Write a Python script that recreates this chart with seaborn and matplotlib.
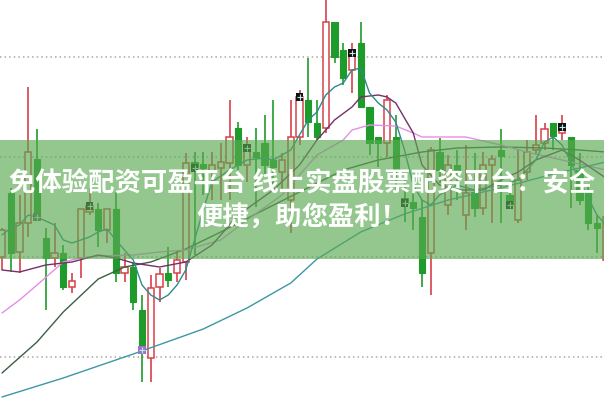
import numpy as np
import pandas as pd
import matplotlib
matplotlib.use('Agg')
import matplotlib.pyplot as plt
import seaborn as sns

# ---------- data (price units) ----------
opens = [11.50, 12.14, 11.55, 11.84, 12.48, 11.69, 11.49, 11.54, 11.20, 11.49,
         11.95, 11.98, 11.77, 11.98, 11.34, 11.40, 10.97, 10.49, 11.20, 11.34,
         11.34, 11.45, 12.45, 12.42, 12.35, 12.39, 12.44, 12.79, 12.42, 12.55,
         12.64, 12.47, 12.35, 12.07, 12.70, 13.07, 12.84, 12.79, 13.85, 13.57,
         13.37, 13.64, 13.00, 12.70, 12.64, 12.70, 12.09, 12.05, 11.90, 11.54,
         12.55, 12.02, 12.42, 11.92, 12.15, 11.99, 12.42, 12.57, 12.12, 11.87,
         12.35, 12.57, 12.64, 12.84, 12.74, 12.70, 12.37, 12.14, 11.84, 11.47]
closes = [11.77, 11.54, 11.84, 12.55, 11.90, 11.49, 11.54, 11.20, 11.26, 11.98,
          12.01, 11.77, 11.98, 11.34, 11.40, 11.05, 10.57, 11.19, 11.33, 11.27,
          11.47, 12.44, 12.39, 12.39, 12.42, 12.45, 12.70, 12.42, 12.59, 12.50,
          12.42, 12.40, 12.47, 12.70, 13.10, 12.85, 12.70, 13.85, 13.50, 13.29,
          13.54, 13.00, 12.64, 12.64, 13.07, 12.37, 12.04, 11.99, 11.34, 12.57,
          12.37, 12.42, 12.35, 12.14, 11.99, 12.42, 12.48, 12.51, 12.02, 12.27,
          12.55, 12.62, 12.78, 12.71, 12.80, 12.42, 12.07, 11.84, 11.79, 11.90]
highs = [11.79, 12.19, 12.12, 13.20, 12.78, 11.79, 11.84, 11.62, 11.34, 11.98,
         12.19, 12.04, 11.98, 12.15, 11.54, 11.45, 11.12, 11.32, 11.39, 11.60,
         11.57, 12.54, 12.55, 12.55, 12.55, 12.64, 13.07, 12.85, 12.70, 12.79,
         12.92, 13.07, 12.54, 13.07, 13.17, 13.49, 13.07, 14.12, 13.85, 13.64,
         13.64, 13.85, 13.00, 12.70, 13.12, 12.92, 12.27, 12.22, 12.07, 12.60,
         12.69, 12.52, 12.57, 12.62, 12.54, 12.55, 12.52, 12.78, 12.17, 12.57,
         12.67, 12.92, 12.84, 12.84, 12.92, 12.70, 12.54, 12.22, 11.92, 11.97]
lows = [11.37, 11.35, 11.34, 11.70, 11.87, 10.97, 11.40, 11.17, 11.14, 11.29,
        11.92, 11.60, 11.64, 11.25, 11.25, 10.97, 10.25, 10.25, 11.05, 11.20,
        11.25, 11.27, 11.52, 12.12, 12.07, 12.07, 12.07, 12.37, 12.25, 12.00,
        12.32, 12.20, 12.17, 11.74, 12.62, 12.70, 12.67, 12.74, 13.44, 13.22,
        13.14, 13.00, 12.52, 12.40, 12.50, 12.14, 11.85, 11.77, 11.20, 11.12,
        12.24, 11.92, 12.07, 11.77, 11.90, 11.92, 11.84, 11.84, 11.99, 11.84,
        12.27, 12.52, 12.57, 12.57, 12.67, 11.99, 12.02, 11.77, 11.54, 11.37]

marker_idx = [4, 10, 16, 22, 28, 34, 40, 46, 58, 64]

# moving average lines, sampled at candle indices
ma5_idx = [0, 1, 2, 3, 4, 6, 7, 8, 9, 10, 11, 12, 13, 14, 15, 16, 17, 18, 19, 20,
           21, 22, 23, 24, 26, 28, 30, 31, 33, 34, 35, 36, 37, 38, 39, 40, 41, 42,
           43, 44, 45, 46, 47, 48, 49, 50, 52, 54, 57, 59, 61, 62, 63, 64, 65, 66,
           67, 68, 69]
ma5_val = [11.72, 11.79, 11.82, 11.92, 11.90, 11.82, 11.67, 11.64, 11.67, 11.70,
           11.75, 11.78, 11.67, 11.57, 11.47, 11.22, 11.12, 11.07, 11.12, 11.22,
           11.37, 11.67, 11.97, 12.25, 12.37, 12.47, 12.49, 12.47, 12.57, 12.72,
           12.87, 12.95, 13.12, 13.20, 13.24, 13.37, 13.39, 13.14, 13.04, 12.97,
           12.85, 12.57, 12.22, 12.07, 12.02, 12.12, 12.22, 12.17, 12.22, 12.27,
           12.47, 12.65, 12.70, 12.62, 12.45, 12.27, 12.09, 11.92, 11.82]
ma10_idx = [0, 2, 5, 8, 11, 13, 15, 18, 21, 24, 27, 31, 34, 36, 38, 40, 41, 43,
            44, 45, 47, 48, 50, 52, 55, 57, 59, 61, 64, 66, 69]
ma10_val = [11.37, 11.35, 11.42, 11.45, 11.52, 11.49, 11.44, 11.40, 11.45, 11.62,
            11.92, 12.17, 12.42, 12.67, 12.87, 13.00, 13.10, 13.12, 13.10, 13.04,
            12.74, 12.42, 12.22, 12.17, 12.17, 12.27, 12.35, 12.47, 12.57, 12.47,
            12.29]
ma20_idx = [0, 2, 4, 7, 9, 11, 15, 18, 21, 25, 28, 32, 34, 36, 39, 40, 42, 45,
            47, 48, 53, 57, 60, 64, 69]
ma20_val = [10.94, 11.07, 11.22, 11.45, 11.49, 11.51, 11.52, 11.55, 11.57, 11.67,
            11.87, 12.12, 12.32, 12.52, 12.67, 12.77, 12.82, 12.81, 12.74, 12.70,
            12.70, 12.62, 12.55, 12.47, 12.37]
ma30_idx = [0, 4, 7, 11, 14, 17, 21, 25, 29, 34, 39, 43, 48, 52, 57, 62, 66, 69]
ma30_val = [10.34, 10.65, 10.95, 11.28, 11.40, 11.45, 11.58, 11.75, 11.93, 12.15,
            12.37, 12.47, 12.55, 12.59, 12.60, 12.59, 12.57, 12.55]
ma60_idx = [0, 7, 15, 23, 28, 33, 36, 41, 46, 51, 57, 63, 69]
ma60_val = [10.10, 10.29, 10.53, 10.78, 10.99, 11.24, 11.48, 11.75, 11.93, 12.07,
            12.19, 12.33, 12.45]

banner_lines = ['免体验配资可盈平台 线上实盘股票配资平台：安全', '便捷，助您盈利！']

# ---------- style ----------
sns.set_style('white')
plt.rcParams['font.family'] = ['Noto Sans CJK SC', 'DejaVu Sans']

up_col = '#d8404a'
down_col = '#1f9b2c'

fig = plt.figure(figsize=(6.04, 4.01), dpi=100)
ax = fig.add_axes([0, 0, 1, 1])

df = pd.DataFrame({'open': opens, 'close': closes, 'high': highs, 'low': lows})
df['idx'] = np.arange(len(df))
df['up'] = df['close'] >= df['open']

# grid lines
for g in [10.5, 11.5, 12.5, 13.5]:
    ax.axhline(g, color='#a8a8a8', lw=1.1, ls=(0, (1, 2)), zorder=0)

# wicks
for up, col in [(True, up_col), (False, down_col)]:
    d = df[df['up'] == up]
    ax.vlines(d['idx'], d['low'], d['high'], color=col, lw=1.2, zorder=2)

# bodies
body_lo = df[['open', 'close']].min(axis=1)
body_h = (df['close'] - df['open']).abs().clip(lower=0.04)
ax.bar(df['idx'][df['up']], body_h[df['up']], bottom=body_lo[df['up']], width=0.74,
       facecolor='white', edgecolor=up_col, linewidth=1.1, zorder=3)
ax.bar(df['idx'][~df['up']], body_h[~df['up']], bottom=body_lo[~df['up']], width=0.74,
       facecolor=down_col, edgecolor=down_col, linewidth=0.8, zorder=3)

# moving averages
ma_specs = [(ma60_idx, ma60_val, '#3c97a6'), (ma30_idx, ma30_val, '#3e5e42'),
            (ma20_idx, ma20_val, '#e48fe6'), (ma10_idx, ma10_val, '#74306a'),
            (ma5_idx, ma5_val, '#2f8a8c')]
for xi, yv, col in ma_specs:
    sns.lineplot(x=xi, y=yv, ax=ax, color=col, lw=1.0, estimator=None, sort=True, zorder=4)

# marker squares
mk = df.loc[marker_idx]
mcols = ['#606060' if i == 4 else ('#9c74c4' if i == 16 else '#111111') for i in marker_idx]
ax.scatter(mk['idx'], mk['close'], marker='s', s=30, c=mcols, zorder=5, linewidths=0)
ax.scatter(mk['idx'], mk['close'], marker='+', s=14, c='#bfe8f0', zorder=6, linewidths=0.8)

ax.set_xlim(-0.23, 68.8)
ax.set_ylim(10.06, 14.07)
ax.axis('off')

# banner overlay
ax.axhspan(11.48, 12.67, color='#5aaa50', alpha=0.65, lw=0, zorder=7)
ax.text(0.5, 0.544, banner_lines[0], transform=ax.transAxes, ha='center', va='center',
        fontsize=19, fontweight='bold', color='white', zorder=8)
ax.text(0.5, 0.459, banner_lines[1], transform=ax.transAxes, ha='center', va='center',
        fontsize=19, fontweight='bold', color='white', zorder=8)

fig.savefig('out.png', dpi=100)
